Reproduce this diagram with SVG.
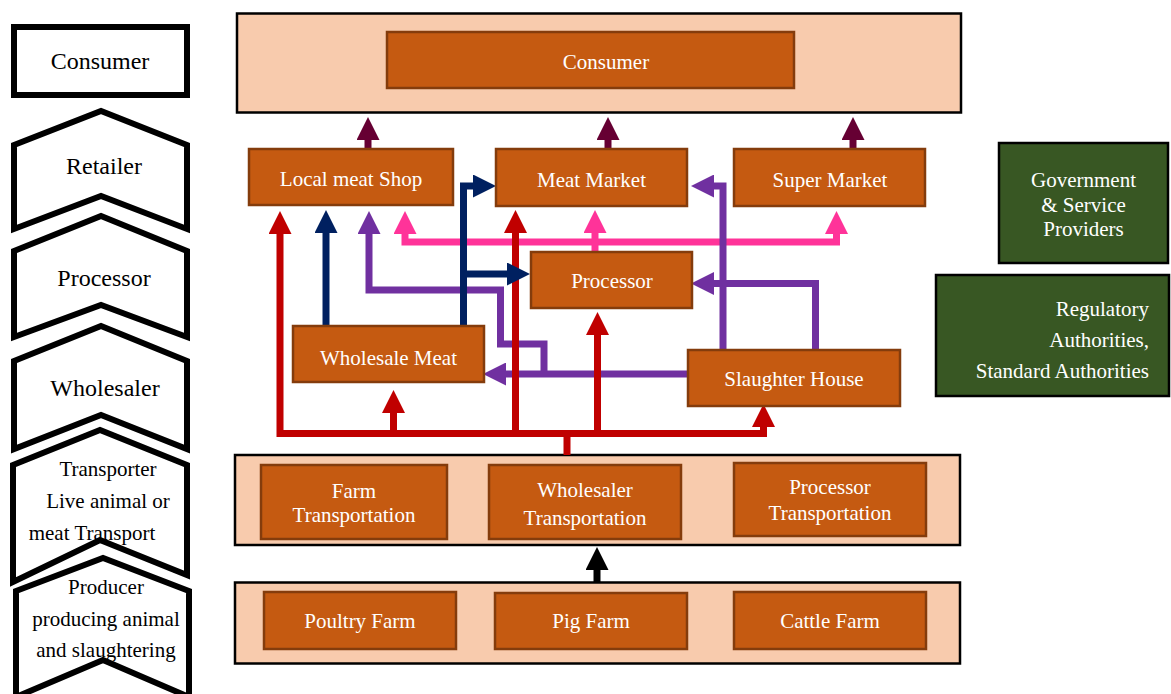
<svg xmlns="http://www.w3.org/2000/svg" width="1171" height="694" viewBox="0 0 1171 694">
  <style>
    text { font-family: 'Liberation Serif', 'DejaVu Serif', serif; }
    .t { font-size: 21px; text-anchor: middle; }
    .lbl { font-size: 24px; text-anchor: middle; fill: #000; }
    .lbl2 { font-size: 21px; text-anchor: middle; fill: #000; }
    .stage { fill: #fff; stroke: #000; stroke-width: 6; stroke-linejoin: miter; }
    .band { fill: #F8CBAD; stroke: #000; stroke-width: 2.5; }
    .box { fill: #C55A11; stroke: #843C0C; stroke-width: 2.5; }
    .boxt { fill: #fff; }
    .end { text-anchor: end; }
    .gov { fill: #385723; stroke: #000; stroke-width: 2.5; }
    .ln { fill: none; stroke-width: 7; stroke-linejoin: miter; stroke-linecap: butt; }
    .maroon { stroke: #660033; }
    .red { stroke: #C00000; }
    .navy { stroke: #002060; }
    .purple { stroke: #7030A0; }
    .pink { stroke: #FF3399; }
    .black { stroke: #000; }
  </style>
  <defs>
    <marker id="ah-maroon" viewBox="0 0 23 23" markerWidth="23" markerHeight="23" refX="1" refY="11.5" markerUnits="userSpaceOnUse" orient="auto-start-reverse"><path d="M0,0 L23,11.5 L0,23 Z" fill="#660033"/></marker>
    <marker id="ah-red" viewBox="0 0 23 23" markerWidth="23" markerHeight="23" refX="1" refY="11.5" markerUnits="userSpaceOnUse" orient="auto-start-reverse"><path d="M0,0 L23,11.5 L0,23 Z" fill="#C00000"/></marker>
    <marker id="ah-navy" viewBox="0 0 23 23" markerWidth="23" markerHeight="23" refX="1" refY="11.5" markerUnits="userSpaceOnUse" orient="auto-start-reverse"><path d="M0,0 L23,11.5 L0,23 Z" fill="#002060"/></marker>
    <marker id="ah-purple" viewBox="0 0 23 23" markerWidth="23" markerHeight="23" refX="1" refY="11.5" markerUnits="userSpaceOnUse" orient="auto-start-reverse"><path d="M0,0 L23,11.5 L0,23 Z" fill="#7030A0"/></marker>
    <marker id="ah-pink" viewBox="0 0 23 23" markerWidth="23" markerHeight="23" refX="1" refY="11.5" markerUnits="userSpaceOnUse" orient="auto-start-reverse"><path d="M0,0 L23,11.5 L0,23 Z" fill="#FF3399"/></marker>
    <marker id="ah-black" viewBox="0 0 23 23" markerWidth="23" markerHeight="23" refX="1" refY="11.5" markerUnits="userSpaceOnUse" orient="auto-start-reverse"><path d="M0,0 L23,11.5 L0,23 Z" fill="#000"/></marker>
  </defs>

  <rect width="1171" height="694" fill="#fff"/>

  <!-- supply chain stages (left column) -->
  <g id="stage-consumer">
    <rect class="stage" x="14" y="27" width="173" height="68"/>
    <text class="lbl" x="100" y="69" font-family="Liberation Serif, serif">Consumer</text>
  </g>
  <g id="stage-retailer">
    <path class="stage" d="M14,145 L101,111 L187,145 L187,229 L101,196 L14,229 Z"/>
    <text class="lbl" x="104" y="174">Retailer</text>
  </g>
  <g id="stage-processor">
    <path class="stage" d="M14,251 L101,216 L187,251 L187,337 L101,305 L14,337 Z"/>
    <text class="lbl" x="104" y="286">Processor</text>
  </g>
  <g id="stage-wholesaler">
    <path class="stage" d="M14,361 L101,326 L187,361 L187,449 L101,415 L14,449 Z"/>
    <text class="lbl" x="105" y="396">Wholesaler</text>
  </g>
  <g id="stage-transporter">
    <path class="stage" d="M13,465 L100,430 L187,465 L187,575 L100,540 L13,582 Z"/>
    <text class="lbl2" x="108" y="476">Transporter</text>
    <text class="lbl2" x="108" y="508">Live animal or</text>
    <text class="lbl2" x="92" y="540">meat Transport</text>
  </g>
  <g id="stage-producer">
    <path class="stage" d="M16,591 L103,558 L189,591 L189,697 L103,660 L16,697 Z"/>
    <text class="lbl2" x="106" y="594">Producer</text>
    <text class="lbl2" x="106" y="626">producing animal</text>
    <text class="lbl2" x="106" y="657">and slaughtering</text>
  </g>

  <!-- tier bands -->
  <g id="band-consumer">
    <rect class="band" x="237" y="13.5" width="724" height="99"/>
  </g>
  <g id="band-transport">
    <rect class="band" x="235" y="455" width="725" height="90"/>
  </g>
  <g id="band-producer">
    <rect class="band" x="235" y="582.5" width="725" height="81"/>
  </g>

  <!-- connectors -->
  <g id="connectors">
    <!-- to consumer -->
    <path class="ln maroon" d="M368,149 L368,139" marker-end="url(#ah-maroon)"/>
    <path class="ln maroon" d="M608,149 L608,139" marker-end="url(#ah-maroon)"/>
    <path class="ln maroon" d="M853,149 L853,139" marker-end="url(#ah-maroon)"/>

    <!-- processor distribution to retail -->
    <path class="ln pink" d="M405,233 L405,242 L836.5,242 L836.5,233" marker-start="url(#ah-pink)" marker-end="url(#ah-pink)"/>
    <path class="ln pink" d="M595,251 L595,232" marker-end="url(#ah-pink)"/>

    <!-- slaughter house flows -->
    <path class="ln purple" d="M688,374 L505,374" marker-end="url(#ah-purple)"/>
    <path class="ln purple" d="M544,374 L544,344 L500.5,344 L500.5,290 L369,290 L369,233" marker-end="url(#ah-purple)"/>
    <path class="ln purple" d="M723,350 L723,186 L713,186" marker-end="url(#ah-purple)"/>
    <path class="ln purple" d="M815.5,350 L815.5,283.5 L713,283.5" marker-end="url(#ah-purple)"/>

    <!-- transport distribution -->
    <path class="ln red" d="M280,233 L280,433.5 L763.5,433.5 L763.5,426" marker-start="url(#ah-red)" marker-end="url(#ah-red)"/>
    <path class="ln red" d="M393.5,433.5 L393.5,412" marker-end="url(#ah-red)"/>
    <path class="ln red" d="M515.5,433.5 L515.5,232" marker-end="url(#ah-red)"/>
    <path class="ln red" d="M597.5,433.5 L597.5,334" marker-end="url(#ah-red)"/>
    <path class="ln red" d="M567,455 L567,433"/>

    <!-- wholesale meat flows -->
    <path class="ln navy" d="M326,326 L326,232" marker-end="url(#ah-navy)"/>
    <path class="ln navy" d="M463.5,326 L463.5,186 L474,186" marker-end="url(#ah-navy)"/>
    <path class="ln navy" d="M463.5,274 L508,274" marker-end="url(#ah-navy)"/>

    <!-- producers to transport -->
    <path class="ln black" d="M597,582 L597,569" marker-end="url(#ah-black)"/>
  </g>

  <!-- nodes -->
  <g id="node-consumer">
    <rect class="box" x="387" y="32" width="407" height="56"/>
    <text class="t boxt" x="606" y="69">Consumer</text>
  </g>
  <g id="node-local-shop">
    <rect class="box" x="249" y="149" width="204" height="56"/>
    <text class="t boxt" x="351" y="186">Local meat Shop</text>
  </g>
  <g id="node-meat-market">
    <rect class="box" x="496" y="149" width="191" height="57"/>
    <text class="t boxt" x="591.5" y="187">Meat Market</text>
  </g>
  <g id="node-super-market">
    <rect class="box" x="734" y="149" width="191" height="57"/>
    <text class="t boxt" x="830" y="187">Super Market</text>
  </g>
  <g id="node-processor">
    <rect class="box" x="531" y="252" width="161" height="56"/>
    <text class="t boxt" x="612" y="288">Processor</text>
  </g>
  <g id="node-wholesale-meat">
    <rect class="box" x="293" y="326" width="191" height="56"/>
    <text class="t boxt" x="388.5" y="365">Wholesale Meat</text>
  </g>
  <g id="node-slaughter-house">
    <rect class="box" x="688" y="350" width="212" height="56"/>
    <text class="t boxt" x="794" y="386">Slaughter House</text>
  </g>
  <g id="node-farm-transport">
    <rect class="box" x="261" y="465" width="186" height="74"/>
    <text class="t boxt" x="354" y="498">Farm</text>
    <text class="t boxt" x="354" y="522">Transportation</text>
  </g>
  <g id="node-wholesaler-transport">
    <rect class="box" x="489" y="465" width="192" height="74"/>
    <text class="t boxt" x="585" y="497">Wholesaler</text>
    <text class="t boxt" x="585" y="525">Transportation</text>
  </g>
  <g id="node-processor-transport">
    <rect class="box" x="734" y="463" width="192" height="73"/>
    <text class="t boxt" x="830" y="494">Processor</text>
    <text class="t boxt" x="830" y="520">Transportation</text>
  </g>
  <g id="node-poultry-farm">
    <rect class="box" x="264" y="592" width="192" height="57"/>
    <text class="t boxt" x="360" y="628">Poultry Farm</text>
  </g>
  <g id="node-pig-farm">
    <rect class="box" x="495" y="593" width="192" height="56"/>
    <text class="t boxt" x="591" y="628">Pig Farm</text>
  </g>
  <g id="node-cattle-farm">
    <rect class="box" x="734" y="592" width="192" height="57"/>
    <text class="t boxt" x="830" y="628">Cattle Farm</text>
  </g>

  <!-- support bodies -->
  <g id="node-government">
    <rect class="gov" x="999" y="143" width="169" height="120"/>
    <text class="t boxt" x="1083.5" y="187">Government</text>
    <text class="t boxt" x="1083.5" y="212">&amp; Service</text>
    <text class="t boxt" x="1083.5" y="236">Providers</text>
  </g>
  <g id="node-regulatory">
    <rect class="gov" x="936" y="275" width="233" height="121"/>
    <text class="t boxt end" x="1149" y="316">Regulatory</text>
    <text class="t boxt end" x="1149" y="347">Authorities,</text>
    <text class="t boxt end" x="1149" y="378">Standard Authorities</text>
  </g>
</svg>
